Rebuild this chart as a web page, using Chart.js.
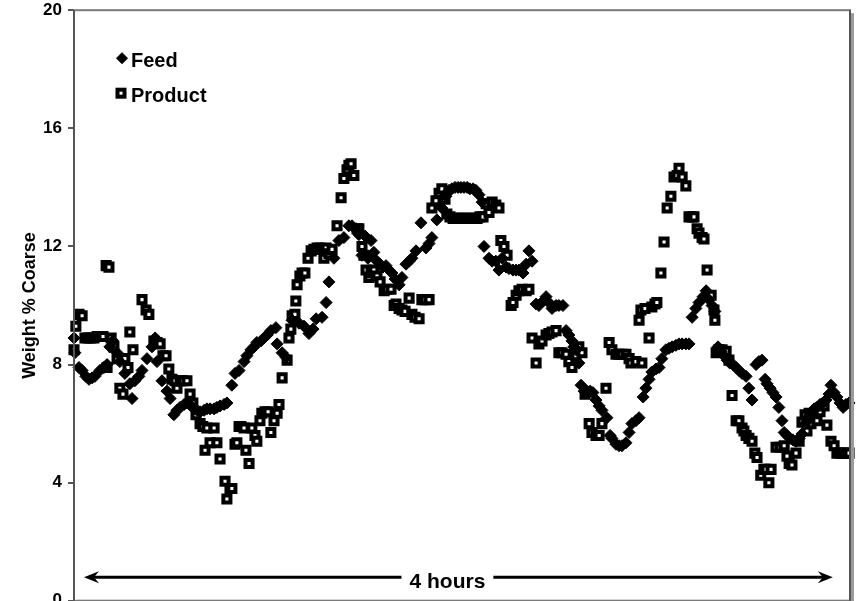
<!DOCTYPE html>
<html>
<head>
<meta charset="utf-8">
<script src="https://cdn.jsdelivr.net/npm/chart.js@4/dist/chart.umd.min.js"></script>
<style>
  html, body { margin: 0; padding: 0; background: #fff; overflow: hidden; }
  #wrap { width: 859px; height: 623px; position: relative; top: -6px; }
</style>
</head>
<body>
<div id="wrap"><canvas id="c"></canvas></div>
<script>
// ---- data (time in minutes, value in weight % coarse) ----
const feedTime = [-3.2,-2.9,-1.6,-0.6,0.6,1.6,2.6,3.5,5.1,6.4,7.4,8.3,9.3,10.6,11.5,13.1,14.7,15.4,16.3,17.6,18.6,20.2,21.8,22.8,23.4,25.0,26.6,27.6,28.8,29.8,30.8,32.1,33.0,34.3,35.3,36.2,37.2,38.5,39.4,40.4,41.7,42.6,43.6,44.9,45.8,47.4,48.4,49.7,51.3,52.2,53.5,54.5,55.4,56.7,57.7,58.7,59.9,61.5,61.9,63.5,64.7,66.7,68.9,70.5,72.1,73.4,74.4,76.3,77.6,78.5,80.1,81.7,83.3,84.9,85.9,87.2,88.1,89.1,90.1,91.0,92.0,92.9,93.9,94.9,95.8,96.8,97.8,98.7,99.7,101.0,101.9,103.2,104.2,105.1,106.4,108.0,109.6,110.6,111.5,113.1,114.7,116.0,117.0,117.9,118.9,119.9,120.8,121.8,122.8,123.7,124.7,125.6,126.6,127.6,128.2,129.8,130.8,132.0,133.0,134.0,135.3,136.2,137.5,138.5,139.4,140.7,141.7,142.6,143.6,144.9,145.8,147.1,148.1,149.0,150.0,151.3,152.2,153.5,154.5,155.4,156.4,157.0,157.7,158.6,159.3,160.3,161.2,162.2,163.1,164.1,165.1,166.0,167.6,168.6,169.2,170.5,171.5,172.4,173.7,174.7,175.6,176.9,177.9,179.2,180.1,181.1,182.0,183.3,184.3,185.2,186.5,187.5,188.5,189.7,190.7,191.7,192.9,193.9,194.9,196.1,197.1,198.4,199.4,200.3,201.3,202.2,203.2,204.2,205.1,206.1,207.0,208.0,209.0,209.9,210.9,212.2,213.1,214.1,215.4,216.3,217.3,218.3,218.9,219.9,220.8,221.8,222.7,223.7,224.4,225.3,226.3,227.2,228.2,229.2,230.1,231.1,232.0,233.0,234.0,234.9,235.9,236.8,237.8,238.8,239.4,240.4,241.3,242.3,243.3,244.2,245.2];
const feedValue = [8.9,8.4,7.9,7.8,7.6,7.5,7.55,7.6,7.8,7.9,8.0,8.6,8.8,8.4,8.1,7.7,7.35,6.85,7.45,7.6,7.8,8.2,8.6,8.9,8.1,7.45,7.1,6.85,6.3,6.45,6.55,6.65,6.7,6.6,6.5,6.45,6.4,6.45,6.5,6.5,6.5,6.55,6.6,6.65,6.7,7.3,7.7,7.8,8.1,8.3,8.5,8.6,8.75,8.8,8.9,9.0,9.15,9.25,8.7,8.4,8.25,9.5,9.4,9.3,9.05,9.2,9.55,9.6,10.1,10.8,11.6,12.2,12.3,12.7,12.7,12.6,12.4,11.7,12.35,11.6,12.2,11.8,11.5,11.4,11.3,11.35,11.2,11.1,10.9,10.7,10.95,11.4,11.5,11.6,11.85,12.8,11.95,12.1,12.3,12.9,13.3,13.7,13.9,13.95,14.0,14.0,14.0,14.0,14.0,13.95,13.95,13.9,13.75,13.5,12.0,11.6,11.5,11.5,11.2,11.6,11.3,11.25,11.2,11.2,11.2,11.1,11.4,11.85,11.5,10.05,10.0,10.15,10.3,10.1,9.9,10.0,10.0,10.0,9.15,9.0,8.8,8.6,8.5,8.05,7.3,7.1,7.1,7.1,7.05,6.8,6.6,6.45,6.2,5.6,5.5,5.3,5.25,5.25,5.35,5.7,6.0,6.1,6.2,6.9,7.2,7.5,7.75,7.85,7.9,8.2,8.5,8.55,8.6,8.65,8.7,8.7,8.7,8.7,9.6,9.9,10.1,10.3,10.5,10.2,10.0,9.8,8.6,8.45,8.3,8.15,8.05,8.0,7.9,7.8,7.7,7.6,7.2,6.8,8.0,8.1,8.15,7.5,7.35,7.2,7.05,6.9,6.55,6.1,5.7,5.6,5.5,5.45,5.4,5.5,5.65,6.0,6.2,6.35,6.5,6.55,6.65,6.7,6.8,7.0,7.3,7.05,6.9,6.7,6.55,6.65,6.7];

const productTime = [-3.2,-2.6,-1.6,-0.6,0.3,1.3,2.2,3.2,4.2,5.1,6.1,7.1,7.4,8.0,8.7,9.6,10.6,11.5,12.5,13.1,14.1,14.7,15.7,18.6,19.9,20.8,22.4,23.4,24.4,25.3,26.3,27.2,28.2,29.2,29.8,30.8,31.7,33.0,34.0,34.9,35.9,37.2,38.1,38.8,39.4,40.4,41.7,42.6,43.6,45.2,45.8,46.8,47.4,48.4,49.0,49.7,50.3,51.3,51.9,52.9,53.8,54.8,55.4,56.4,57.0,58.0,59.0,59.9,60.9,61.9,62.5,63.5,65.1,65.7,66.3,66.7,67.6,67.9,68.3,69.2,69.9,70.8,71.8,72.8,73.7,74.7,75.6,76.6,76.9,77.6,78.5,79.5,81.1,82.4,83.3,84.3,84.9,85.6,86.5,87.5,88.1,89.1,89.7,90.4,91.3,92.0,92.9,93.9,94.9,96.2,97.1,98.4,99.4,100.0,101.0,101.9,102.9,104.2,105.1,106.1,107.4,108.3,109.3,110.6,111.5,112.8,113.8,114.7,115.7,116.3,117.3,118.3,119.2,120.2,121.1,122.1,123.1,124.0,125.0,126.0,126.9,127.9,128.9,129.8,130.8,132.0,133.0,133.6,134.6,135.6,136.9,137.5,138.5,139.4,140.4,141.7,142.6,143.6,144.9,145.8,146.8,148.1,149.0,150.0,151.3,152.2,153.2,154.5,155.4,156.4,157.7,158.6,159.6,160.6,161.9,162.8,164.1,165.1,166.0,167.3,168.3,169.2,170.5,171.5,172.4,173.7,174.7,175.3,176.9,177.9,178.5,178.8,179.8,181.1,182.0,183.0,183.6,184.9,185.9,186.9,188.1,189.1,190.1,190.7,191.7,192.9,193.9,194.9,195.5,196.5,197.1,198.1,198.7,199.7,201.0,201.9,202.2,202.6,203.5,204.5,205.8,206.7,207.7,209.0,209.9,210.9,211.5,212.2,213.1,214.1,215.0,215.7,216.9,217.9,218.6,219.5,220.2,221.8,223.1,224.4,225.3,226.0,226.9,228.2,229.2,230.1,231.1,231.7,232.4,233.0,234.0,234.9,235.9,237.2,238.1,239.4,240.4,241.3,242.3,243.3,244.2,245.2];
const productValue = [8.5,9.3,9.7,9.65,8.9,8.9,8.9,8.9,8.95,8.95,8.95,11.35,7.9,11.3,8.9,8.6,8.2,7.2,7.0,8.2,7.9,9.1,8.5,10.2,9.85,9.7,8.8,8.75,8.7,8.3,8.3,7.85,7.5,7.45,7.2,7.45,7.45,7.45,7.0,6.7,6.3,6.0,5.9,5.1,5.85,5.35,5.85,5.35,4.8,4.05,3.45,3.8,3.8,5.3,5.35,5.9,5.9,5.85,5.1,4.65,5.85,5.6,5.4,6.1,6.35,6.4,6.4,5.7,6.1,6.35,6.65,7.55,8.15,8.9,9.2,9.65,9.7,10.15,10.7,11.0,11.1,11.1,11.6,11.85,11.9,11.95,11.95,11.9,11.6,11.95,11.75,11.9,12.7,13.65,14.3,14.6,14.75,14.8,14.4,12.6,12.6,12.0,11.7,11.2,10.95,11.1,11.2,11.0,10.8,10.5,10.55,10.55,10.0,10.05,9.9,9.85,9.8,10.25,9.7,9.6,9.55,10.2,10.2,10.2,13.3,13.55,13.8,13.95,13.6,13.1,13.0,12.95,12.95,12.95,12.95,12.95,12.95,12.95,12.95,12.95,13.0,13.0,13.45,13.15,13.5,13.4,13.3,12.2,12.0,11.7,10.0,10.1,10.35,10.5,10.55,10.5,10.55,8.9,8.05,8.7,8.8,9.0,9.05,9.1,9.15,8.4,8.4,8.35,8.1,7.9,8.3,8.6,8.4,7.0,6.0,5.7,5.6,5.6,6.0,7.2,8.75,8.5,8.35,8.35,8.35,8.35,8.2,8.05,8.1,9.5,9.85,8.05,9.9,8.9,9.95,10.05,10.1,11.1,12.15,13.3,13.7,14.35,14.4,14.65,14.35,14.05,13.0,13.0,13.0,12.6,12.45,12.3,12.25,11.2,10.35,9.85,9.5,8.4,8.5,8.5,8.45,8.15,6.95,6.1,6.1,5.85,5.75,5.6,5.5,5.4,5.0,4.85,4.25,4.45,4.45,4.0,4.45,5.2,5.2,5.25,4.9,4.65,4.6,5.0,5.4,6.05,6.3,5.75,6.35,6.0,6.2,6.1,6.4,6.6,5.95,5.4,5.25,5.0,5.0,5.0,5.0,5.0];

const seriesNames = ["Feed", "Product"];
const yTicks = [0, 4, 8, 12, 16, 20];
const yTitle = "Weight % Coarse";
const spanLabel = "4 hours";
const spanStart = 0, spanEnd = 240; // minutes

const FONT = '"Liberation Sans", Arial, Helvetica, sans-serif';

function pts(t, v) { return t.map((x, i) => ({ x: x, y: v[i] })); }

function drawDiamond(ctx, x, y, r) {
  ctx.beginPath();
  ctx.moveTo(x, y - r); ctx.lineTo(x + r, y); ctx.lineTo(x, y + r); ctx.lineTo(x - r, y);
  ctx.closePath();
  ctx.fillStyle = '#000'; ctx.fill();
  ctx.lineWidth = 1; ctx.strokeStyle = '#000'; ctx.stroke();
}
function drawSquare(ctx, x, y, h) {
  ctx.fillStyle = '#fff';
  ctx.fillRect(x - h, y - h, 2 * h, 2 * h);
  ctx.lineWidth = 4; ctx.strokeStyle = '#000';
  ctx.strokeRect(x - h, y - h, 2 * h, 2 * h);
}

const framePlugin = {
  id: 'frame',
  afterDatasetsDraw(chart) {
    const { ctx, chartArea: a } = chart;
    ctx.save();
    ctx.fillStyle = '#9a9a9a';
    ctx.fillRect(a.right + 1, a.top + 3, 3, a.bottom - a.top);
    ctx.fillRect(a.left + 3, a.bottom - 1, a.right - a.left, 4);
    ctx.strokeStyle = '#7a7a7a';
    ctx.lineWidth = 2;
    ctx.strokeRect(a.left, a.top, a.right - a.left, a.bottom - a.top);
    ctx.strokeStyle = '#555';
    ctx.beginPath(); ctx.moveTo(a.left, a.top); ctx.lineTo(a.left, a.bottom); ctx.stroke();
    ctx.beginPath(); ctx.moveTo(a.right, a.top); ctx.lineTo(a.right, a.bottom); ctx.stroke();
    ctx.restore();
  },
  afterDraw(chart) {
    const { ctx, chartArea: a, scales } = chart;
    ctx.save();
    // legend
    const lx = a.left + 48;
    const ly0 = a.top + 48, ly1 = a.top + 83;
    drawDiamond(ctx, lx, ly0, 5.5);
    drawSquare(ctx, lx - 1, ly1, 3.5);
    ctx.fillStyle = '#000';
    ctx.font = 'bold 20px ' + FONT;
    ctx.textBaseline = 'middle';
    ctx.textAlign = 'left';
    ctx.fillText(seriesNames[0], lx + 9, ly0 + 3);
    ctx.fillText(seriesNames[1], lx + 9, ly1 + 3);
    // span arrow
    const x0 = scales.x.getPixelForValue(spanStart);
    const x1 = scales.x.getPixelForValue(spanEnd);
    const y = scales.y.getPixelForValue(0.8);
    ctx.strokeStyle = '#000';
    ctx.lineWidth = 3;
    ctx.beginPath(); ctx.moveTo(x0 + 6, y); ctx.lineTo(x1 - 6, y); ctx.stroke();
    ctx.fillStyle = '#000';
    ctx.beginPath();
    ctx.moveTo(x0, y); ctx.lineTo(x0 + 15, y - 6); ctx.lineTo(x0 + 10, y); ctx.lineTo(x0 + 15, y + 6); ctx.closePath(); ctx.fill();
    ctx.beginPath();
    ctx.moveTo(x1, y); ctx.lineTo(x1 - 15, y - 6); ctx.lineTo(x1 - 10, y); ctx.lineTo(x1 - 15, y + 6); ctx.closePath(); ctx.fill();
    // label
    ctx.font = 'bold 21px ' + FONT;
    const cx = (x0 + x1) / 2 - 11;
    const w = ctx.measureText(spanLabel).width;
    ctx.fillStyle = '#fff';
    ctx.fillRect(cx - w / 2 - 8, y - 12, w + 16, 28);
    ctx.fillStyle = '#000';
    ctx.textAlign = 'center';
    ctx.textBaseline = 'middle';
    ctx.fillText(spanLabel, cx, y + 5);
    ctx.restore();
  }
};

new Chart(document.getElementById('c'), {
  type: 'scatter',
  data: {
    datasets: [
      {
        label: seriesNames[0],
        data: pts(feedTime, feedValue),
        pointStyle: 'rectRot',
        pointRadius: 6,
        pointHoverRadius: 6,
        backgroundColor: '#000',
        borderColor: '#000',
        borderWidth: 1,
        order: 0,
        clip: false
      },
      {
        label: seriesNames[1],
        data: pts(productTime, productValue),
        pointStyle: 'rect',
        pointRadius: 5,
        pointHoverRadius: 5,
        backgroundColor: '#fff',
        borderColor: '#000',
        borderWidth: 4,
        order: 1,
        clip: false
      }
    ]
  },
  options: {
    responsive: true,
    maintainAspectRatio: false,
    animation: false,
    events: [],
    layout: { padding: { top: 0, right: 9, bottom: 0, left: 0 } },
    plugins: { legend: { display: false }, tooltip: { enabled: false } },
    scales: {
      x: {
        type: 'linear',
        min: -3.2,
        max: 245.5,
        display: false
      },
      y: {
        min: 0,
        max: 20,
        afterBuildTicks(scale) { scale.ticks = yTicks.map(v => ({ value: v })); },
        afterFit(scale) { scale.width = 74; },
        border: { display: false },
        grid: { drawOnChartArea: false, drawTicks: true, tickLength: 6, color: '#555', lineWidth: 2 },
        ticks: {
          color: '#000',
          padding: 6,
          font: { family: FONT, size: 17, weight: 'bold' }
        },
        title: {
          display: true,
          text: yTitle,
          color: '#000',
          padding: { top: 19, bottom: 0 },
          font: { family: FONT, size: 18, weight: 'bold' }
        }
      }
    }
  },
  plugins: [framePlugin]
});
</script>
</body>
</html>
